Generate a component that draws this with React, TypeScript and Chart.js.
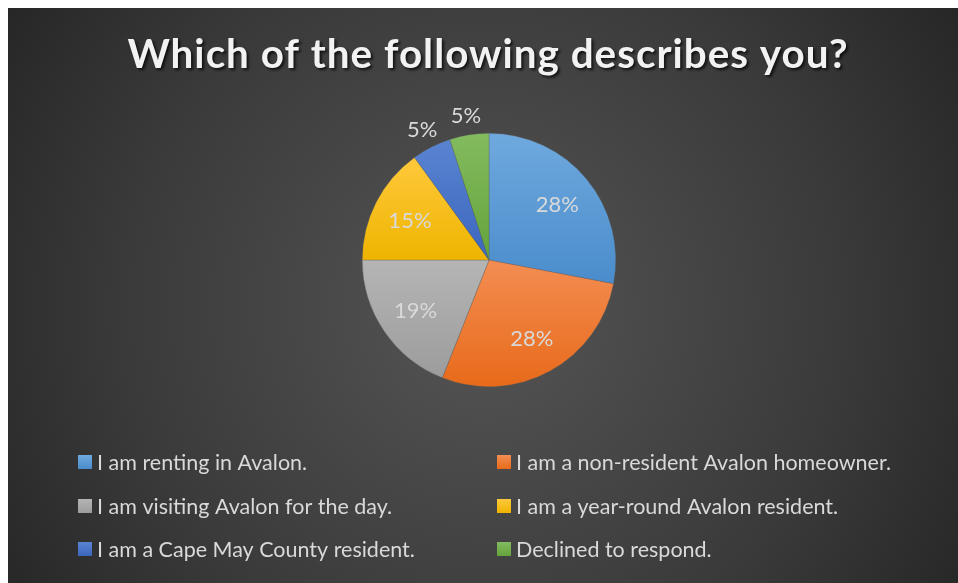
import React, { useEffect, useRef } from "react";
import { Chart, registerables } from "chart.js";

Chart.register(...registerables);

const title = "Which of the following describes you?";
const categories = [
  "I am renting in Avalon.",
  "I am a non-resident Avalon homeowner.",
  "I am visiting Avalon for the day.",
  "I am a year-round Avalon resident.",
  "I am a Cape May County resident.",
  "Declined to respond.",
];
const values = [28, 28, 19, 15, 5, 5];
const topColors = ["#6fa9de", "#f38d52", "#b5b5b5", "#ffc93c", "#5a84d2", "#83bb5f"];
const bottomColors = ["#4a8ccc", "#e86a1a", "#9c9c9c", "#eeb400", "#3b66bd", "#64a43b"];
const baseColors = ["#5b9bd5", "#ed7d31", "#a5a5a5", "#ffc000", "#4472c4", "#70ad47"];

const W = 950;
const H = 575;
const TEXT = "#d9d9d9";
const FONT = "Lato, 'Open Sans', sans-serif";

if (typeof document !== "undefined") {
  document.body.style.marginRight = "0px";
  document.body.style.marginBottom = "0px";
}

function sliceAngles(i: number) {
  const total = values.reduce((a, b) => a + b, 0);
  let start = -Math.PI / 2;
  for (let k = 0; k < i; k++) start += (values[k] / total) * Math.PI * 2;
  const end = start + (values[i] / total) * Math.PI * 2;
  return [start, end];
}

const bgPlugin = {
  id: "bgPlugin",
  beforeDraw(chart: any) {
    const ctx = chart.ctx;
    ctx.save();
    const g = ctx.createRadialGradient(475, 300, 0, 475, 300, 600);
    g.addColorStop(0, "#555555");
    g.addColorStop(0.6, "#3a3a3a");
    g.addColorStop(1, "#232323");
    ctx.fillStyle = g;
    ctx.fillRect(0, 0, W, H);
    // title
    ctx.font = `bold 36px ${FONT}`;
    (ctx as any).letterSpacing = "1px";
    let w = ctx.measureText(title).width;
    const size = 36 * (726 / w);
    ctx.font = `bold ${size}px ${FONT}`;
    ctx.textAlign = "center";
    ctx.textBaseline = "alphabetic";
    ctx.shadowColor = "rgba(0,0,0,0.75)";
    ctx.shadowOffsetX = 2;
    ctx.shadowOffsetY = 2;
    ctx.shadowBlur = 3;
    ctx.fillStyle = "#f2f2f2";
    ctx.fillText(title, 480, 60);
    ctx.restore();
  },
  afterDatasetsDraw(chart: any) {
    const ctx = chart.ctx;
    const meta = chart.getDatasetMeta(0);
    const total = values.reduce((a, b) => a + b, 0);
    ctx.save();
    ctx.font = `22px ${FONT}`;
    ctx.fillStyle = TEXT;
    ctx.textAlign = "center";
    ctx.textBaseline = "middle";
    meta.data.forEach((arc: any, i: number) => {
      const { x, y, startAngle, endAngle, outerRadius } = arc.getProps(
        ["x", "y", "startAngle", "endAngle", "outerRadius"],
        true
      );
      const mid = (startAngle + endAngle) / 2;
      const pct = Math.round((values[i] / total) * 100) + "%";
      const r = values[i] / total < 0.08 ? outerRadius * 1.16 : outerRadius * 0.7;
      ctx.fillText(pct, x + Math.cos(mid) * r, y + Math.sin(mid) * r + 1);
    });
    ctx.restore();
  },
  afterDraw(chart: any) {
    const ctx = chart.ctx;
    ctx.save();
    ctx.font = `21.5px ${FONT}`;
    ctx.textBaseline = "middle";
    ctx.textAlign = "left";
    const colX = [70, 489];
    const rowY = [454, 498, 541];
    categories.forEach((c, i) => {
      const col = i % 2;
      const row = Math.floor(i / 2);
      const x = colX[col];
      const y = rowY[row];
      const g = ctx.createLinearGradient(0, y - 7, 0, y + 7);
      g.addColorStop(0, topColors[i]);
      g.addColorStop(1, bottomColors[i]);
      ctx.fillStyle = g;
      ctx.fillRect(x, y - 7, 14, 14);
      ctx.fillStyle = TEXT;
      ctx.fillText(c, x + 19, y + 1);
    });
    ctx.restore();
  },
};

export default function App() {
  const ref = useRef<HTMLCanvasElement>(null);
  useEffect(() => {
    if (!ref.current) return;
    const chart = new Chart(ref.current, {
      type: "pie",
      data: {
        labels: categories,
        datasets: [
          {
            data: values,
            borderWidth: 0.5,
            borderColor: "rgba(90,90,90,0.6)",
            backgroundColor: (c: any) => {
              const chart = c.chart;
              const area = chart.chartArea;
              const i = c.dataIndex;
              if (!area || i === undefined) return baseColors[i ?? 0];
              const cx = (area.left + area.right) / 2;
              const cy = (area.top + area.bottom) / 2;
              const R = Math.min(area.right - area.left, area.bottom - area.top) / 2;
              const [s, e] = sliceAngles(i);
              let minY = cy, maxY = cy;
              for (let k = 0; k <= 60; k++) {
                const a = s + ((e - s) * k) / 60;
                const yy = cy + Math.sin(a) * R;
                minY = Math.min(minY, yy);
                maxY = Math.max(maxY, yy);
              }
              const g = chart.ctx.createLinearGradient(0, minY, 0, maxY);
              g.addColorStop(0, topColors[i]);
              g.addColorStop(1, bottomColors[i]);
              return g;
            },
          },
        ],
      },
      options: {
        responsive: false,
        animation: false,
        devicePixelRatio: 1,
        layout: { padding: { top: 125, bottom: 196, left: 354, right: 342 } },
        plugins: {
          legend: { display: false },
          title: { display: false },
          tooltip: { enabled: false },
        },
      },
      plugins: [bgPlugin],
    } as any);
    return () => chart.destroy();
  }, []);
  return (
    <div style={{ width: W, height: H, overflow: "hidden" }}>
      <canvas ref={ref} width={W} height={H} style={{ display: "block", width: W, height: H }} />
    </div>
  );
}
